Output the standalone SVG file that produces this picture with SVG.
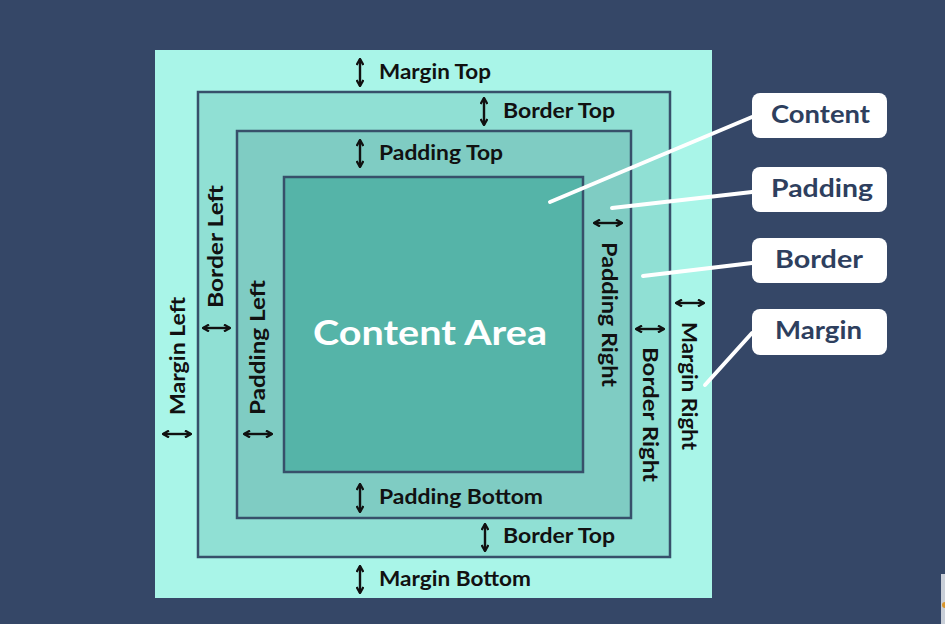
<svg xmlns="http://www.w3.org/2000/svg" width="945" height="624" viewBox="0 0 945 624">
<defs>
<style>
.lbl{font-family:Lato,"Liberation Sans",sans-serif;font-weight:700;font-size:21px;fill:#111}
.tag{font-family:Lato,"Liberation Sans",sans-serif;font-weight:700;font-size:25px;fill:#2E3F5E}
.box{stroke:#37506A;stroke-width:2.5}
.arr{stroke:#111;stroke-width:2.4;fill:none;marker-start:url(#h);marker-end:url(#h)}
.lead{stroke:#fff;stroke-width:4;stroke-linecap:round;fill:none}
.card{fill:#fff}
</style>
<marker id="h" viewBox="0 0 8 8" refX="7" refY="4" markerWidth="8" markerHeight="8" markerUnits="userSpaceOnUse" orient="auto-start-reverse">
<path d="M1,0.6 L7,4 L1,7.4" fill="none" stroke="#111" stroke-width="2.3"/>
</marker>
</defs>
<rect width="945" height="624" fill="#354767"/>
<rect x="941" y="574" width="4" height="50" fill="#C9CFD8"/>
<circle cx="945" cy="605" r="3" fill="#D9962C"/>

<g id="margin-box"><rect x="155" y="50" width="557" height="548" fill="#A9F5E8"/></g>
<g id="border-box"><rect class="box" x="198" y="92" width="472" height="465" fill="#90E0D4"/></g>
<g id="padding-box"><rect class="box" x="237" y="131" width="394" height="387" fill="#7FCCC3"/></g>
<g id="content-box"><rect class="box" x="284" y="177" width="299" height="295" fill="#55B4A8"/>
<text x="313" y="345" textLength="234" lengthAdjust="spacingAndGlyphs" style="font-family:Lato,'Liberation Sans',sans-serif;font-weight:700;font-size:34px;fill:#fff">Content Area</text></g>

<g id="connectors">
<line class="arr" x1="360" y1="59" x2="360" y2="86"/>
<line class="arr" x1="484" y1="98" x2="484" y2="125"/>
<line class="arr" x1="360" y1="140" x2="360" y2="167"/>
<line class="arr" x1="360" y1="484" x2="360" y2="512"/>
<line class="arr" x1="485" y1="524" x2="485" y2="551"/>
<line class="arr" x1="360" y1="566" x2="360" y2="593"/>
<line class="arr" x1="163" y1="434" x2="191" y2="434"/>
<line class="arr" x1="203" y1="328" x2="230" y2="328"/>
<line class="arr" x1="244" y1="434" x2="272" y2="434"/>
<line class="arr" x1="594" y1="223" x2="622" y2="223"/>
<line class="arr" x1="636" y1="329" x2="664" y2="329"/>
<line class="arr" x1="676" y1="303" x2="704" y2="303"/>
<line class="lead" x1="752" y1="117" x2="550" y2="202"/>
<line class="lead" x1="752" y1="192" x2="612" y2="208"/>
<line class="lead" x1="752" y1="263" x2="643" y2="276"/>
<line class="lead" x1="752" y1="333" x2="705" y2="385"/>
</g>

<g id="dimension-labels">
<text class="lbl" x="379" y="79" textLength="112" lengthAdjust="spacingAndGlyphs">Margin Top</text>
<text class="lbl" x="503" y="118" textLength="112" lengthAdjust="spacingAndGlyphs">Border Top</text>
<text class="lbl" x="379" y="160" textLength="124" lengthAdjust="spacingAndGlyphs">Padding Top</text>
<text class="lbl" x="379" y="504" textLength="164" lengthAdjust="spacingAndGlyphs">Padding Bottom</text>
<text class="lbl" x="503" y="543" textLength="112" lengthAdjust="spacingAndGlyphs">Border Top</text>
<text class="lbl" x="379" y="586" textLength="152" lengthAdjust="spacingAndGlyphs">Margin Bottom</text>
<text class="lbl" transform="translate(185,415) rotate(-90)" textLength="118" lengthAdjust="spacingAndGlyphs">Margin Left</text>
<text class="lbl" transform="translate(223,308) rotate(-90)" textLength="123" lengthAdjust="spacingAndGlyphs">Border Left</text>
<text class="lbl" transform="translate(265,415) rotate(-90)" textLength="135" lengthAdjust="spacingAndGlyphs">Padding Left</text>
<text class="lbl" transform="translate(602,242) rotate(90)" textLength="145" lengthAdjust="spacingAndGlyphs">Padding Right</text>
<text class="lbl" transform="translate(643,347) rotate(90)" textLength="135" lengthAdjust="spacingAndGlyphs">Border Right</text>
<text class="lbl" transform="translate(682,322) rotate(90)" textLength="128" lengthAdjust="spacingAndGlyphs">Margin Right</text>
</g>

<g id="tag-content"><rect class="card" x="752" y="93" width="135" height="45" rx="8"/><text class="tag" x="771" y="123" textLength="99" lengthAdjust="spacingAndGlyphs">Content</text></g>
<g id="tag-padding"><rect class="card" x="752" y="167" width="135" height="45" rx="8"/><text class="tag" x="771" y="197" textLength="102" lengthAdjust="spacingAndGlyphs">Padding</text></g>
<g id="tag-border"><rect class="card" x="752" y="238" width="135" height="45" rx="8"/><text class="tag" x="775" y="268" textLength="88" lengthAdjust="spacingAndGlyphs">Border</text></g>
<g id="tag-margin"><rect class="card" x="752" y="309" width="135" height="46" rx="8"/><text class="tag" x="775" y="339" textLength="87" lengthAdjust="spacingAndGlyphs">Margin</text></g>
</svg>
